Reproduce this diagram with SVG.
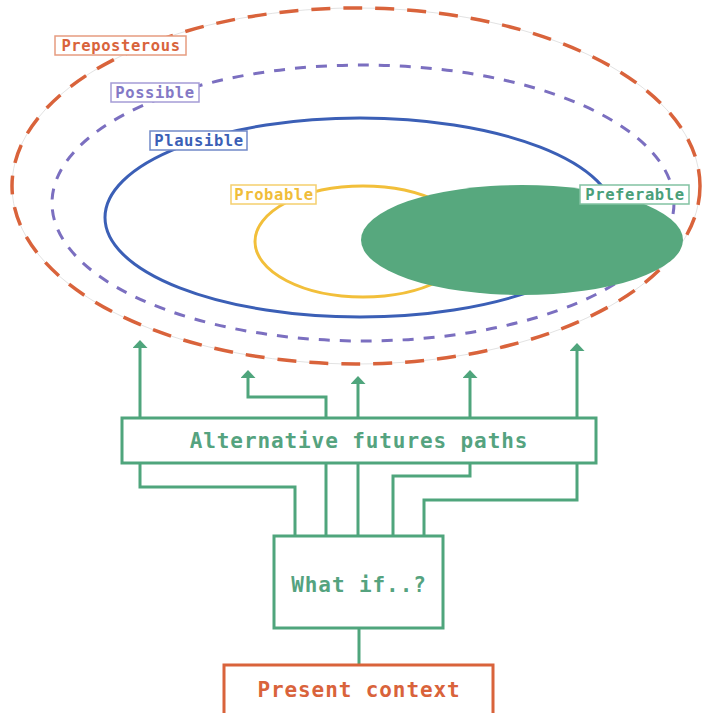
<svg xmlns="http://www.w3.org/2000/svg" width="706" height="713" viewBox="0 0 706 713">
  <style>
    text { font-family: "DejaVu Sans Mono", "Liberation Mono", monospace; font-weight: bold; text-anchor: middle; }
    .lbl { font-size: 15.5px; letter-spacing: 0.6px; }
    .big { font-size: 21px; letter-spacing: 0.9px; }
    .conn { fill: none; stroke: #4fa57c; stroke-width: 3; }
    .tag { fill: #ffffff; stroke-width: 1.5; }
  </style>
  <defs>
    <marker id="head" viewBox="0 0 8 15" refX="0" refY="7.5" markerWidth="8" markerHeight="15" markerUnits="userSpaceOnUse" orient="auto">
      <path d="M0,0 L8,7.5 L0,15 z" fill="#4fa57c"/>
    </marker>
  </defs>
  <rect width="706" height="713" fill="#ffffff"/>

  <!-- nested futures cone -->
  <g id="preposterous">
    <ellipse cx="356" cy="186" rx="344" ry="178" fill="none" stroke="#d6d6d6" stroke-width="0.7"/>
    <ellipse cx="356" cy="186" rx="344" ry="178" fill="none" stroke="#d9633b" stroke-width="3.5" stroke-dasharray="19 13"/>
  </g>
  <g id="possible">
    <ellipse cx="363" cy="203" rx="311" ry="138" fill="none" stroke="#7b6fc0" stroke-width="3" stroke-dasharray="11 10"/>
  </g>
  <g id="plausible">
    <ellipse cx="360" cy="217.5" rx="255" ry="99.5" fill="none" stroke="#3b5fb6" stroke-width="3"/>
  </g>
  <g id="probable">
    <ellipse cx="363" cy="241.5" rx="108" ry="55.5" fill="none" stroke="#f2bf3a" stroke-width="3"/>
  </g>
  <g id="preferable">
    <ellipse cx="522" cy="240" rx="161" ry="55" fill="#57a87e"/>
  </g>

  <!-- ring labels -->
  <g id="label-preposterous">
    <rect class="tag" x="55" y="36" width="131" height="19" stroke="#e69c80"/>
    <text class="lbl" x="121" y="51" fill="#d9643c">Preposterous</text>
  </g>
  <g id="label-possible">
    <rect class="tag" x="111" y="83" width="88" height="19" stroke="#a59cd6"/>
    <text class="lbl" x="155" y="98" fill="#8479c6">Possible</text>
  </g>
  <g id="label-plausible">
    <rect class="tag" x="150" y="131" width="97" height="19" stroke="#7189c8"/>
    <text class="lbl" x="199" y="146" fill="#3b5fb6">Plausible</text>
  </g>
  <g id="label-probable">
    <rect class="tag" x="231" y="185" width="85" height="19" stroke="#f5cf6e"/>
    <text class="lbl" x="274" y="200" fill="#f0bd3a">Probable</text>
  </g>
  <g id="label-preferable">
    <rect class="tag" x="580" y="185" width="109" height="19" stroke="#82c2a2"/>
    <text class="lbl" x="635" y="200" fill="#4aa07a">Preferable</text>
  </g>

  <!-- connectors -->
  <g id="connectors">
    <path class="conn" d="M140,418 V348" marker-end="url(#head)"/>
    <path class="conn" d="M326,418 V397 H248 V378" marker-end="url(#head)"/>
    <path class="conn" d="M358,418 V384" marker-end="url(#head)"/>
    <path class="conn" d="M470,418 V378" marker-end="url(#head)"/>
    <path class="conn" d="M577,418 V351" marker-end="url(#head)"/>
    <path class="conn" d="M140,463 V487 H295 V537"/>
    <path class="conn" d="M326,463 V537"/>
    <path class="conn" d="M358,463 V537"/>
    <path class="conn" d="M470,463 V476 H393 V537"/>
    <path class="conn" d="M577,463 V500 H424 V537"/>
    <path class="conn" d="M359,628 V665"/>
  </g>

  <g id="alternative-paths">
    <rect x="122" y="418" width="474" height="45" fill="#ffffff" stroke="#4fa57c" stroke-width="3"/>
    <text class="big" x="359" y="448" fill="#55a37f">Alternative futures paths</text>
  </g>
  <g id="what-if">
    <rect x="274" y="536" width="169" height="92" fill="#ffffff" stroke="#4fa57c" stroke-width="3"/>
    <text class="big" x="359" y="592" fill="#55a37f">What if..?</text>
  </g>
  <g id="present-context">
    <rect x="224" y="665" width="269" height="60" fill="#ffffff" stroke="#d9633b" stroke-width="3"/>
    <text class="big" x="359" y="697" fill="#d9633b">Present context</text>
  </g>
</svg>
